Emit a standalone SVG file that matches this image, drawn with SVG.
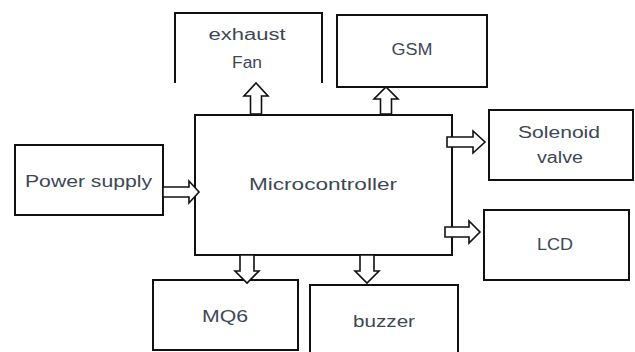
<svg xmlns="http://www.w3.org/2000/svg" width="635" height="352" viewBox="0 0 635 352">
<style>
.box{fill:#fff;stroke:#111;stroke-width:2}
.open{fill:none;stroke:#111;stroke-width:2}
.arr{fill:#fff;stroke:#111;stroke-width:1.6;stroke-linejoin:miter}
text{font-family:"Liberation Sans",Arial,sans-serif;font-size:16px;fill:#3e4756;text-anchor:middle}
</style>
<rect width="635" height="352" fill="#fff"/>
<g id="exhaust-fan">
<path class="open" d="M175,83 V13 H322 V83"/>
<text x="247" y="40" textLength="77" lengthAdjust="spacingAndGlyphs">exhaust</text>
<text x="247" y="68" textLength="30" lengthAdjust="spacingAndGlyphs">Fan</text>
</g>
<g id="gsm">
<rect class="box" x="337" y="15" width="150" height="72"/>
<text x="412" y="55" textLength="41" lengthAdjust="spacingAndGlyphs">GSM</text>
</g>
<g id="microcontroller">
<rect class="box" x="195" y="115" width="257" height="140"/>
<text x="323" y="190" textLength="148" lengthAdjust="spacingAndGlyphs">Microcontroller</text>
</g>
<g id="power-supply">
<rect class="box" x="15" y="145" width="148" height="70"/>
<text x="88.5" y="187" textLength="127" lengthAdjust="spacingAndGlyphs">Power supply</text>
</g>
<g id="solenoid-valve">
<rect class="box" x="489" y="110" width="144" height="70"/>
<text x="559" y="138" textLength="82" lengthAdjust="spacingAndGlyphs">Solenoid</text>
<text x="560" y="163" textLength="46" lengthAdjust="spacingAndGlyphs">valve</text>
</g>
<g id="lcd">
<rect class="box" x="484" y="210" width="145" height="70"/>
<text x="555" y="250" textLength="36" lengthAdjust="spacingAndGlyphs">LCD</text>
</g>
<g id="mq6">
<rect class="box" x="153" y="280" width="145" height="70"/>
<text x="225" y="322" textLength="46" lengthAdjust="spacingAndGlyphs">MQ6</text>
</g>
<g id="buzzer">
<rect class="box" x="310" y="285" width="148" height="75"/>
<text x="384" y="327" textLength="62" lengthAdjust="spacingAndGlyphs">buzzer</text>
</g>
<g id="connectors">
<!-- up arrows -->
<path class="arr" d="M250.5,114 V96 H244 L256,83 L268,96 H261.5 V114 Z"/>
<path class="arr" d="M380.5,114 V99 H374 L386,87 L398,99 H391.5 V114 Z"/>
<!-- right arrows -->
<path class="arr" d="M163,187 H189 V181 L199,192 L189,203 V197 H163 Z"/>
<path class="arr" d="M447,137 H473 V131 L485,142 L473,153 V147 H447 Z"/>
<path class="arr" d="M445,227 H469 V221 L480,232 L469,243 V237 H445 Z"/>
<!-- down arrows -->
<path class="arr" d="M240,255 V271 H235 L247,283 L259,271 H254 V255 Z"/>
<path class="arr" d="M360,255 V271 H355 L367,283 L379,271 H374 V255 Z"/>
</g>
</svg>
